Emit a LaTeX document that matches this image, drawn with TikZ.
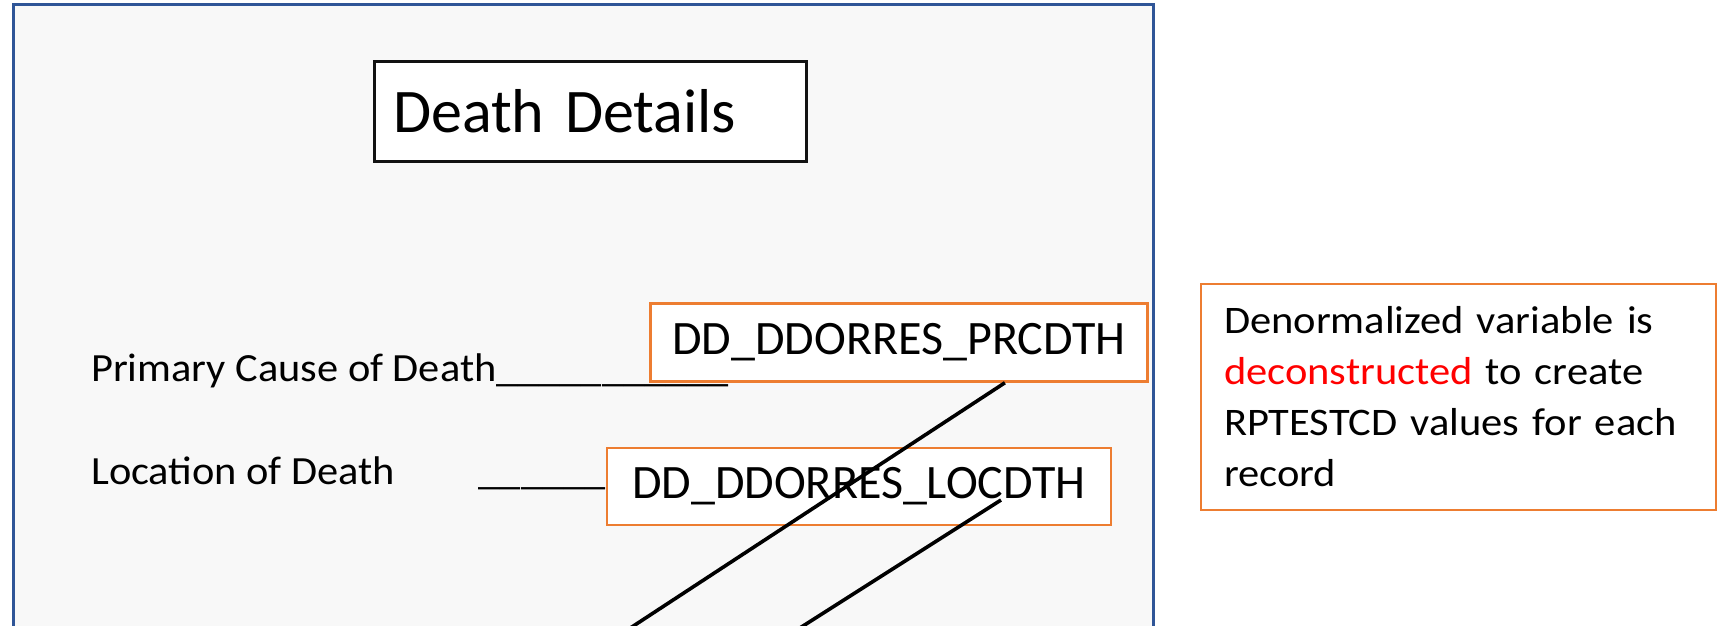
\documentclass[tikz,border=0pt]{standalone}
\usepackage{fontspec}
\setmainfont{Carlito}
\newfontfamily\labelfont[FakeStretch=1.06]{Carlito}
\newfontfamily\notefont[FakeStretch=1.09, WordSpace=0.8]{Carlito}
\usetikzlibrary{calc}
\definecolor{frameblue}{HTML}{2F5597}
\definecolor{panelgray}{HTML}{F8F8F8}
\definecolor{boxorange}{HTML}{ED7D31}
\definecolor{hotred}{HTML}{FF0000}
\tikzset{
  panel/.style={draw=frameblue, line width=3pt, fill=panelgray},
  titlebox/.style={draw=black!93, line width=3pt, fill=white, minimum width=432pt,
    minimum height=99pt, text width=394pt, inner xsep=19pt, align=left,
    font=\fontsize{62}{70}\selectfont},
  varbox/.style={draw=boxorange, line width=2.5pt, fill=white, minimum height=78pt,
    font=\fontsize{48}{56}\selectfont},
  fieldlabel/.style={anchor=base west, inner sep=0pt, font=\labelfont\fontsize{40}{48}\selectfont},
  notebox/.style={draw=boxorange, line width=2.5pt, fill=white, minimum width=515pt,
    minimum height=226pt, text width=469pt, inner xsep=23pt, align=left,
    font=\notefont\fontsize{39}{51}\selectfont},
  link/.style={draw=black, line width=3.6pt}
}
\begin{document}
\begin{tikzpicture}[x=1pt, y=-1pt]
\useasboundingbox (0,0) rectangle (1722,626);
% form panel
\draw[panel] (13,5) rectangle (1153,680);
% heading
\node[titlebox] (dd) at (590,111.5) {Death Details};
% form fields
\node[fieldlabel] (prclabel) at (91,381) {Primary Cause of Death\_\_\_\_\_\_\_\_\_\_\_};
\node[fieldlabel] (loclabel) at (91,484) {Location of Death};
\node[varbox, minimum width=497pt] (prc) at (899,342.5) {DD\_DDORRES\_PRCDTH};
\node[varbox, minimum width=504pt, minimum height=77pt] (loc) at (859,486.5) {DD\_DDORRES\_LOCDTH};
\node[fieldlabel, anchor=base east] (locline) at (loc.west |- loclabel.base) {\_\_\_\_\_\_};
% explanation
\node[notebox] (note) at (1458.5,397) {Denormalized variable is\\
  \textcolor{hotred}{deconstructed} to create\\
  RPTESTCD values for each\\
  record};
% links leaving the variables
\coordinate (p1) at ($(prc.south west)!0.712!(prc.south east)$);
\coordinate (p2) at ($(loc.center)+(142,13.5)$);
\coordinate (e1) at (612,640);
\coordinate (e2) at (781,640);
\draw[link] (p1) -- (e1);
\draw[link] (p2) -- (e2);
\end{tikzpicture}
\end{document}
